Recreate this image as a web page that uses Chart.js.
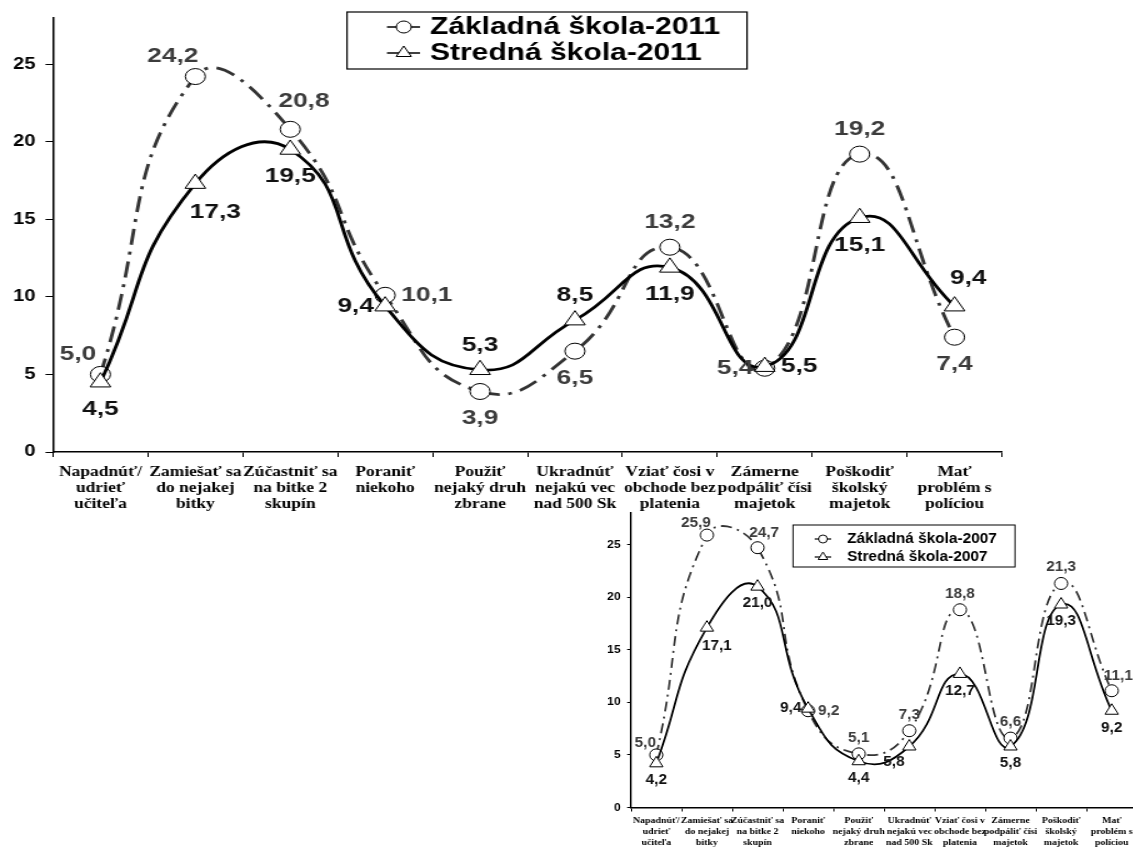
<!DOCTYPE html>
<html>
<head>
<meta charset="utf-8">
<script src="https://cdn.jsdelivr.net/npm/chart.js@4.4.1/dist/chart.umd.min.js"></script>
<style>
  html, body { margin: 0; padding: 0; background: #fff; overflow: hidden; }
  body { width: 1133px; height: 848px; position: relative; }
  /* the source picture is stretched sideways, so the canvases are too */
  #chart2011 { position: absolute; left: 0; top: 0; transform: scaleX(1.25); transform-origin: 0 0; }
  #chart2007 { position: absolute; left: 565px; top: 500px; transform: scaleX(1.1); transform-origin: 0 0; }
</style>
</head>
<body>
<canvas id="chart2011" width="907" height="520"></canvas>
<canvas id="chart2007" width="540" height="348"></canvas>
<script>
const categories = [
  ['Napadnúť/', 'udrieť', 'učiteľa'],
  ['Zamiešať sa', 'do nejakej', 'bitky'],
  ['Zúčastniť sa', 'na bitke 2', 'skupín'],
  ['Poraniť', 'niekoho'],
  ['Použiť', 'nejaký druh', 'zbrane'],
  ['Ukradnúť', 'nejakú vec', 'nad 500 Sk'],
  ['Vziať čosi v', 'obchode bez', 'platenia'],
  ['Zámerne', 'podpáliť čísi', 'majetok'],
  ['Poškodiť', 'školský', 'majetok'],
  ['Mať', 'problém s', 'políciou']
];

const zs2011 = [5.0, 24.2, 20.8, 10.1, 3.9, 6.5, 13.2, 5.4, 19.2, 7.4];
const ss2011 = [4.5, 17.3, 19.5, 9.4, 5.3, 8.5, 11.9, 5.5, 15.1, 9.4];
const zs2007 = [5.0, 25.9, 24.7, 9.2, 5.1, 7.3, 18.8, 6.6, 21.3, 11.1];
const ss2007 = [4.2, 17.1, 21.0, 9.4, 4.4, 5.8, 12.7, 5.8, 19.3, 9.2];
const yTicks = [0, 5, 10, 15, 20, 25];

// where each value label sits next to its marker
const zsPlaces2011 = ['nw', 'nw', 'ne', 'e', 's', 's', 'n', 'w', 'n', 's'];
const ssPlaces2011 = ['s', 'se', 's', 'w', 'n', 'n', 's', 'e', 's', 'ne'];
const zsPlaces2007 = ['nw', 'nw', 'ne', 'e', 'n', 'n', 'n', 'n', 'n', 'ne'];
const ssPlaces2007 = ['s', 'se', 's', 'w', 's', 'sw', 's', 's', 's', 's'];

const SANS = '"Liberation Sans", Arial, sans-serif';
const SERIF = '"Liberation Serif", "Times New Roman", serif';

const pointLabels = {
  id: 'pointLabels',
  afterDatasetsDraw(chart, args, o) {
    const ctx = chart.ctx;
    ctx.save();
    ctx.font = o.font;
    ctx.textBaseline = 'middle';
    chart.data.datasets.forEach((ds, d) => {
      const meta = chart.getDatasetMeta(d);
      ctx.fillStyle = o.colors[d];
      meta.data.forEach((pt, i) => {
        const where = o.places[d][i];
        const off = o.offsets[where];
        ctx.textAlign = where === 'e' ? 'left' : (where === 'w' ? 'right' : 'center');
        ctx.fillText(ds.data[i].toFixed(1).replace('.', ','), pt.x + off[0], pt.y + off[1]);
      });
    });
    ctx.restore();
  }
};

function marker(ctx, style, x, y, r) {
  ctx.beginPath();
  if (style === 'triangle') {
    ctx.moveTo(x, y - r);
    ctx.lineTo(x + r * 0.866, y + r / 2);
    ctx.lineTo(x - r * 0.866, y + r / 2);
    ctx.closePath();
  } else {
    ctx.arc(x, y, r, 0, Math.PI * 2);
  }
  ctx.fill();
  ctx.stroke();
}

const boxLegend = {
  id: 'boxLegend',
  afterDraw(chart, args, o) {
    const ctx = chart.ctx;
    ctx.save();
    ctx.fillStyle = '#fff';
    ctx.fillRect(o.x, o.y, o.w, o.h);
    ctx.strokeStyle = '#000';
    ctx.lineWidth = o.frame;
    ctx.strokeRect(o.x, o.y, o.w, o.h);
    ctx.font = o.font;
    ctx.textBaseline = 'middle';
    ctx.textAlign = 'left';
    chart.data.datasets.forEach((ds, d) => {
      const y = o.rows[d];
      ctx.strokeStyle = '#000';
      ctx.lineWidth = o.lineWidth;
      ctx.beginPath();
      ctx.moveTo(o.lineX[0], y);
      ctx.lineTo(o.lineX[1], y);
      ctx.stroke();
      ctx.fillStyle = '#fff';
      ctx.lineWidth = 1;
      marker(ctx, ds.pointStyle, o.markX, y, ds.pointStyle === 'triangle' ? o.radius + 1 : o.radius);
      ctx.fillStyle = '#000';
      ctx.fillText(ds.label, o.textX, y);
    });
    ctx.restore();
  }
};

function makeChart(id, year, zs, ss, s) {
  const data = {
    labels: categories,
    datasets: [{
      label: 'Základná škola-' + year,
      data: zs,
      order: 1,
      borderColor: '#333',
      borderWidth: s.line,
      borderDash: s.dash,
      tension: 0.5,
      fill: false,
      pointStyle: 'circle',
      pointRadius: s.circle,
      pointBackgroundColor: '#fff',
      pointBorderColor: '#000',
      pointBorderWidth: 1
    }, {
      label: 'Stredná škola-' + year,
      data: ss,
      order: 0,
      borderColor: '#000',
      borderWidth: s.line,
      tension: 0.5,
      fill: false,
      pointStyle: 'triangle',
      pointRadius: s.triangle,
      pointBackgroundColor: '#fff',
      pointBorderColor: '#000',
      pointBorderWidth: 1
    }]
  };

  const config = {
    type: 'line',
    data: data,
    plugins: [pointLabels, boxLegend],
    options: {
      responsive: false,
      animation: false,
      events: [],
      devicePixelRatio: 1,
      layout: { padding: { left: 0, top: s.top, right: s.right, bottom: 0 } },
      scales: {
        x: {
          offset: true,
          grid: { offset: true, drawOnChartArea: false, tickLength: s.xTick, color: '#000' },
          border: { color: '#000', width: 1.5 },
          ticks: {
            autoSkip: false, maxRotation: 0, minRotation: 0, color: '#000', padding: s.xPad,
            font: { family: SERIF, weight: 'bold', size: s.xFont, lineHeight: s.xLine }
          },
          afterFit: sc => { sc.height = s.xHeight; }
        },
        y: {
          min: 0,
          max: 28,
          afterBuildTicks: sc => { sc.ticks = yTicks.map(v => ({ value: v })); },
          grid: { drawOnChartArea: false, tickLength: s.yTick, color: '#000' },
          border: { color: '#000', width: 1.5 },
          ticks: { color: '#000', padding: s.yPad, font: { family: SANS, weight: 'bold', size: s.yFont } },
          afterFit: sc => { sc.width = s.yWidth; }
        }
      },
      plugins: {
        legend: { display: false },
        tooltip: { enabled: false },
        pointLabels: {
          font: 'bold ' + s.labelFont + 'px ' + SANS,
          colors: ['#3c3c3c', '#111'],
          places: s.places,
          offsets: s.offsets
        },
        boxLegend: s.legend
      }
    }
  };

  return new Chart(document.getElementById(id), config);
}

makeChart('chart2011', '2011', zs2011, ss2011, {
  top: 14, right: 105.4, xHeight: 68, yWidth: 42.4,
  line: 2.8, dash: [16, 7, 3, 7], circle: 8, triangle: 9.5,
  xTick: 5, xPad: 7, xFont: 14, xLine: 1.15,
  yTick: 6, yPad: 8, yFont: 16,
  labelFont: 21,
  places: [zsPlaces2011, ssPlaces2011],
  offsets: { n: [0, -25], s: [0, 27], nw: [-18, -20], ne: [11, -28], se: [16, 29], e: [13, 0], w: [-9, 0] },
  legend: {
    x: 277.6, y: 12, w: 320, h: 57, frame: 1.2, font: 'bold 24px ' + SANS,
    rows: [27, 53], lineX: [309.6, 336], markX: 323, textX: 344, radius: 6, lineWidth: 1.5
  }
});

makeChart('chart2007', '2007', zs2007, ss2007, {
  top: 13, right: 20, xHeight: 40.5, yWidth: 60,
  line: 1.8, dash: [10, 5, 2, 5], circle: 6, triangle: 7,
  xTick: 4, xPad: 4, xFont: 9, xLine: 1.2,
  yTick: 3.5, yPad: 6, yFont: 11,
  labelFont: 14,
  places: [zsPlaces2007, ssPlaces2007],
  offsets: { n: [0, -16], s: [0, 17], nw: [-10, -12], ne: [6, -15], se: [9, 18], e: [9, 0], w: [-6, 0], sw: [-14, 16] },
  legend: {
    x: 207.3, y: 25, w: 201.8, h: 42, frame: 1, font: 'bold 14px ' + SANS,
    rows: [39, 57], lineX: [227, 242], markX: 234.5, textX: 256.4, radius: 4, lineWidth: 1.2
  }
});
</script>
</body>
</html>
